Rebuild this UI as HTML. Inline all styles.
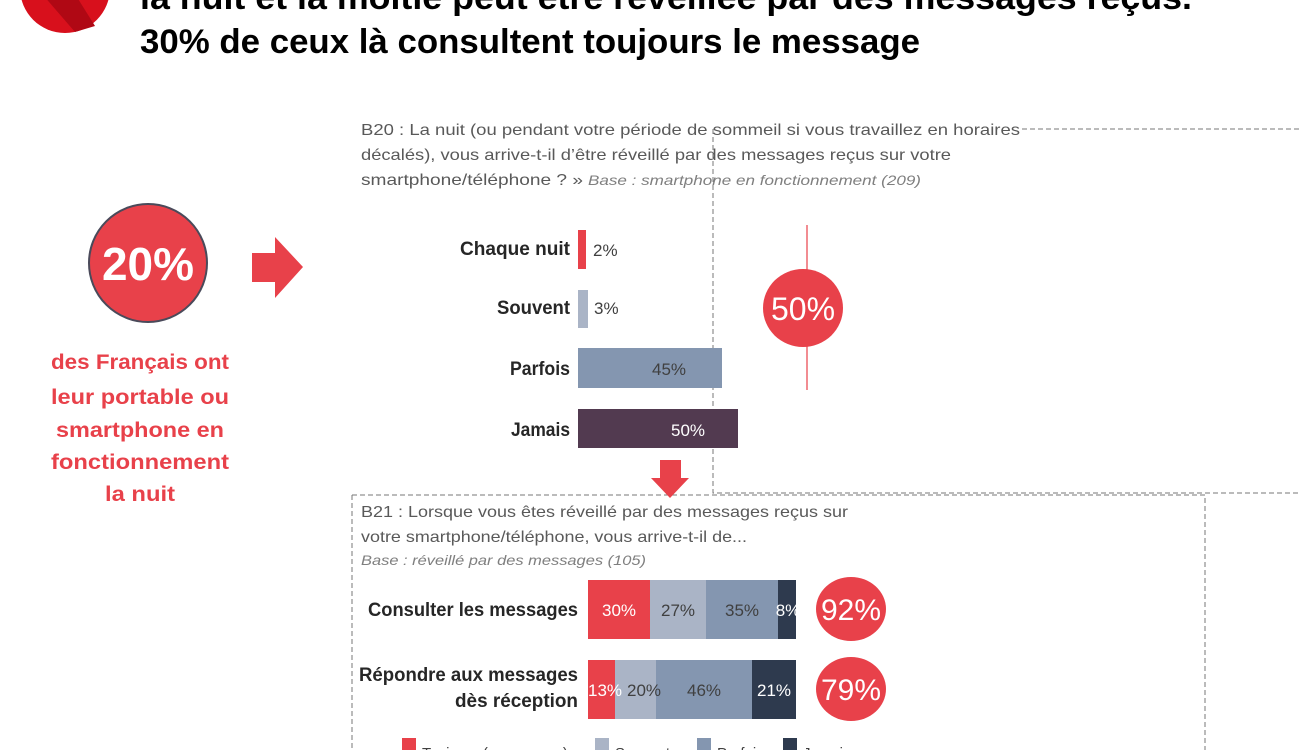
<!DOCTYPE html>
<html><head><meta charset="utf-8"><style>
html,body{margin:0;padding:0;background:#fff;}
svg{display:block;}
text{font-family:"Liberation Sans Narrow","Liberation Sans",sans-serif;}
</style></head><body>
<svg width="1300" height="750" viewBox="0 0 1300 750" xmlns="http://www.w3.org/2000/svg">
<circle cx="65" cy="-12" r="45" fill="#d8101c"/>
<path d="M30 -20 L75 32 L95 26 L60 -30 Z" fill="#b00814"/>
<text x="140" y="9" font-size="34" font-weight="bold" fill="#000" textLength="1052" lengthAdjust="spacingAndGlyphs">la nuit et la moitié peut être réveillée par des messages reçus.</text>
<text x="140" y="53" font-size="34" font-weight="bold" fill="#000" textLength="780" lengthAdjust="spacingAndGlyphs">30% de ceux là consultent toujours le message</text>
<g stroke="#777" stroke-width="1" stroke-dasharray="5,3" fill="none">
<path d="M1022 129 H1300"/>
<path d="M713 129 V493 H1300"/>
<path d="M352 495 H1205 V750"/>
<path d="M352 495 V750"/>
</g>
<g font-size="16" fill="#595959">
<text x="361" y="135" textLength="659" lengthAdjust="spacingAndGlyphs">B20 : La nuit (ou pendant votre période de sommeil si vous travaillez en horaires</text>
<text x="361" y="160" textLength="590" lengthAdjust="spacingAndGlyphs">décalés), vous arrive-t-il d’être réveillé par des messages reçus sur votre</text>
<text x="361" y="185" textLength="222" lengthAdjust="spacingAndGlyphs">smartphone/téléphone ? »</text>
<text x="588" y="185" font-size="14" font-style="italic" fill="#7f7f7f" textLength="333" lengthAdjust="spacingAndGlyphs">Base : smartphone en fonctionnement  (209)</text>
</g>
<circle cx="148" cy="263" r="59" fill="#e8414a" stroke="#4a4a5a" stroke-width="2"/>
<text x="148" y="280" font-size="46" font-weight="bold" fill="#fff" text-anchor="middle" textLength="92" lengthAdjust="spacingAndGlyphs">20%</text>
<path d="M252 253 H275 V237 L303 267 L275 298 V282 H252 Z" fill="#e8414a"/>
<g font-size="21" font-weight="bold" fill="#e8414a" text-anchor="middle">
<text x="140" y="369" textLength="178" lengthAdjust="spacingAndGlyphs">des Français ont</text>
<text x="140" y="404" textLength="178" lengthAdjust="spacingAndGlyphs">leur portable ou</text>
<text x="140" y="437" textLength="168" lengthAdjust="spacingAndGlyphs">smartphone en</text>
<text x="140" y="469" textLength="178" lengthAdjust="spacingAndGlyphs">fonctionnement</text>
<text x="140" y="501" textLength="70" lengthAdjust="spacingAndGlyphs">la nuit</text>
</g>
<g font-size="19" font-weight="bold" fill="#262626" text-anchor="end">
<text x="570" y="255" textLength="110" lengthAdjust="spacingAndGlyphs">Chaque nuit</text>
<text x="570" y="314" textLength="73" lengthAdjust="spacingAndGlyphs">Souvent</text>
<text x="570" y="375" textLength="60" lengthAdjust="spacingAndGlyphs">Parfois</text>
<text x="570" y="436" textLength="59" lengthAdjust="spacingAndGlyphs">Jamais</text>
</g>
<rect x="578" y="230" width="8" height="39" fill="#e8414a"/>
<rect x="578" y="290" width="10" height="38" fill="#aab4c6"/>
<rect x="578" y="348" width="144" height="40" fill="#8496b0"/>
<rect x="578" y="409" width="160" height="39" fill="#523a50"/>
<g font-size="17" fill="#404040">
<text x="593" y="256">2%</text>
<text x="594" y="314">3%</text>
<text x="652" y="375">45%</text>
<text x="671" y="436" fill="#fff">50%</text>
</g>
<line x1="807" y1="225" x2="807" y2="390" stroke="#e8414a" stroke-width="1.2"/>
<ellipse cx="803" cy="308" rx="40" ry="39" fill="#e8414a"/>
<text x="803" y="320" font-size="32" fill="#fff" text-anchor="middle" textLength="64" lengthAdjust="spacingAndGlyphs">50%</text>
<path d="M660 460 H681 V478 H689 L670 498 L651 478 H660 Z" fill="#e8414a"/>
<g font-size="16" fill="#595959">
<text x="361" y="517" textLength="487" lengthAdjust="spacingAndGlyphs">B21 : Lorsque vous êtes réveillé par des messages reçus sur</text>
<text x="361" y="542" textLength="386" lengthAdjust="spacingAndGlyphs">votre smartphone/téléphone, vous arrive-t-il de...</text>
<text x="361" y="565" font-size="14" font-style="italic" fill="#7f7f7f" textLength="285" lengthAdjust="spacingAndGlyphs">Base : réveillé par des messages (105)</text>
</g>
<g font-size="19" font-weight="bold" fill="#262626" text-anchor="end">
<text x="578" y="616" textLength="210" lengthAdjust="spacingAndGlyphs">Consulter les messages</text>
<text x="578" y="681" textLength="219" lengthAdjust="spacingAndGlyphs">Répondre aux messages</text>
<text x="578" y="707" textLength="123" lengthAdjust="spacingAndGlyphs">dès réception</text>
</g>
<rect x="588" y="580" width="62" height="59" fill="#e8414a"/>
<rect x="650" y="580" width="56" height="59" fill="#aab4c6"/>
<rect x="706" y="580" width="72" height="59" fill="#8496b0"/>
<rect x="778" y="580" width="18" height="59" fill="#2e3a4e"/>
<rect x="588" y="660" width="27" height="59" fill="#e8414a"/>
<rect x="615" y="660" width="41" height="59" fill="#aab4c6"/>
<rect x="656" y="660" width="96" height="59" fill="#8496b0"/>
<rect x="752" y="660" width="44" height="59" fill="#2e3a4e"/>
<g font-size="17" text-anchor="middle">
<text x="619" y="616" fill="#fff">30%</text>
<text x="678" y="616" fill="#404040">27%</text>
<text x="742" y="616" fill="#404040">35%</text>
<text x="788" y="616" fill="#fff">8%</text>
<text x="605" y="696" fill="#fff">13%</text>
<text x="644" y="696" fill="#404040">20%</text>
<text x="704" y="696" fill="#404040">46%</text>
<text x="774" y="696" fill="#fff">21%</text>
</g>
<ellipse cx="851" cy="609" rx="35" ry="32" fill="#e8414a"/>
<text x="851" y="620" font-size="30" fill="#fff" text-anchor="middle" textLength="60" lengthAdjust="spacingAndGlyphs">92%</text>
<ellipse cx="851" cy="689" rx="35" ry="32" fill="#e8414a"/>
<text x="851" y="700" font-size="30" fill="#fff" text-anchor="middle" textLength="60" lengthAdjust="spacingAndGlyphs">79%</text>
<rect x="402" y="738" width="14" height="14" fill="#e8414a"/>
<rect x="595" y="738" width="14" height="14" fill="#aab4c6"/>
<rect x="697" y="738" width="14" height="14" fill="#8496b0"/>
<rect x="783" y="738" width="14" height="14" fill="#2e3a4e"/>
<g font-size="15" fill="#404040">
<text x="422" y="758">Toujours (ou presque)</text>
<text x="615" y="758">Souvent</text>
<text x="717" y="758">Parfois</text>
<text x="803" y="758">Jamais</text>
</g>
</svg>
</body></html>
